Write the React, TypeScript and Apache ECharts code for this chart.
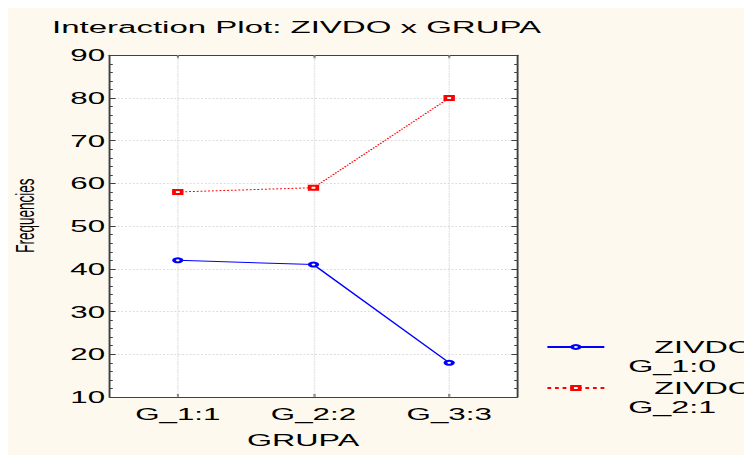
import React, { useEffect, useRef } from "react";
import * as echarts from "echarts";

const categories = ["G_1:1", "G_2:2", "G_3:3"];
const seriesNames = ["ZIVDO G_1:0", "ZIVDO G_2:1"];
const legendFirstLines = ["ZIVDO", "ZIVDO"];
const legendSecondLines = ["G_1:0", "G_2:1"];
const blueValues = [42, 41, 18];
const redValues = [58, 59, 80];
const yMin = 10;
const yMax = 90;
const yInterval = 10;
const titleText = "Interaction Plot: ZIVDO x GRUPA";
const xName = "GRUPA";
const yName = "Frequencies";

const FONT = "'Liberation Sans', Arial, Helvetica, sans-serif";
const SX = 744 / 392;
const AXIS_COLOR = "#404040";
const GRID_COLOR = "#dcdcdc";

export default function App() {
  const ref = useRef<HTMLDivElement>(null);
  useEffect(() => {
    if (!ref.current) return;
    const chart = echarts.init(ref.current, undefined, { renderer: "svg" });
    const legendItem = (i: number, top: number) => ({
      data: [seriesNames[i]],
      orient: "vertical",
      left: 283.2,
      top,
      padding: 0,
      itemWidth: 30,
      itemHeight: 5,
      selectedMode: false,
      formatter: () => `\n{a|${legendFirstLines[i]}}\n{b|${legendSecondLines[i]}}`,
      textStyle: {
        fontFamily: FONT,
        fontSize: 17,
        lineHeight: 19,
        color: "#000",
        rich: {
          a: { fontFamily: FONT, fontSize: 17, lineHeight: 19, color: "#000", padding: [0, 0, 0, 21.3] },
          b: { fontFamily: FONT, fontSize: 17, lineHeight: 19, color: "#000", padding: [0, 0, 0, 7.6] },
        },
      },
    });
    const yTickCommon = {
      type: "value" as const,
      min: yMin,
      max: yMax,
      interval: yInterval,
      axisLine: { show: true, lineStyle: { color: AXIS_COLOR, width: 1 } },
      axisTick: { show: true, inside: true, length: 3, lineStyle: { color: AXIS_COLOR } },
      minorTick: { show: true, splitNumber: 5, length: 1.5, lineStyle: { color: AXIS_COLOR } },
    };
    chart.setOption({
      animation: false,
      title: {
        text: titleText,
        left: 23.2,
        top: 11,
        padding: 0,
        textStyle: { fontFamily: FONT, fontSize: 17.4, fontWeight: "normal", color: "#000" },
      },
      grid: {
        left: 53.7,
        right: 123.8,
        top: 47.3,
        bottom: 58,
        containLabel: false,
        outerBoundsMode: "none",
        show: true,
        backgroundColor: "#ffffff",
        borderWidth: 0,
      },
      legend: [legendItem(0, 310.5), legendItem(1, 351.5)],
      xAxis: [
        {
          type: "category",
          data: categories,
          boundaryGap: true,
          position: "bottom",
          axisLine: { show: true, lineStyle: { color: AXIS_COLOR, width: 1 } },
          axisTick: { show: true, inside: true, alignWithLabel: true, length: 3, lineStyle: { color: AXIS_COLOR } },
          axisLabel: { fontFamily: FONT, fontSize: 16.5, color: "#000", margin: 9 },
          splitLine: { show: false },
          name: xName,
          nameLocation: "middle",
          nameGap: 35,
          nameTextStyle: { fontFamily: FONT, fontSize: 17, color: "#000", padding: [0, 11, 0, 0] },
        },
        {
          type: "category",
          data: categories,
          boundaryGap: true,
          position: "top",
          axisLine: { show: true, lineStyle: { color: AXIS_COLOR, width: 1 } },
          axisTick: { show: true, inside: true, alignWithLabel: true, length: 3, lineStyle: { color: AXIS_COLOR } },
          axisLabel: { show: false },
          splitLine: { show: false },
        },
      ],
      yAxis: [
        {
          ...yTickCommon,
          position: "left",
          axisLabel: { fontFamily: FONT, fontSize: 16.5, color: "#000", margin: 2.5 },
          splitLine: { show: true, lineStyle: { color: GRID_COLOR, type: "dotted", width: 1 } },
          name: yName,
          nameLocation: "middle",
          nameGap: 38,
          nameTextStyle: { fontFamily: FONT, fontSize: 13.5, color: "#000", padding: [0, 0, 0, 21] },
        },
        {
          ...yTickCommon,
          position: "right",
          axisLabel: { show: false },
          splitLine: { show: false },
        },
      ],
      series: [
        {
          type: "line",
          name: seriesNames[0],
          xAxisIndex: 0,
          yAxisIndex: 0,
          data: blueValues,
          symbol: "emptyCircle",
          symbolSize: 4,
          lineStyle: { color: "#0000ff", width: 1 },
          itemStyle: { color: "#0000ff", borderWidth: 0.7 },
          markLine: {
            silent: true,
            symbol: ["none", "none"],
            label: { show: false },
            lineStyle: { color: GRID_COLOR, type: "dotted", width: 0.8 },
            data: categories.map((c) => ({ xAxis: c })),
            z: 1,
          },
        },
        {
          type: "line",
          name: seriesNames[1],
          xAxisIndex: 0,
          yAxisIndex: 0,
          data: redValues,
          symbol: "emptyRect",
          symbolSize: 4,
          lineStyle: { color: "#ff0000", width: 1, type: "dotted" },
          itemStyle: { color: "#ff0000", borderWidth: 0.7 },
        },
      ],
    });
    return () => chart.dispose();
  }, []);
  return (
    <div style={{ width: 744, height: 447, background: "#fdf9ef", overflow: "hidden" }}>
      <div
        ref={ref}
        style={{ width: 392, height: 447, transform: `scaleX(${SX})`, transformOrigin: "0 0" }}
      />
    </div>
  );
}
